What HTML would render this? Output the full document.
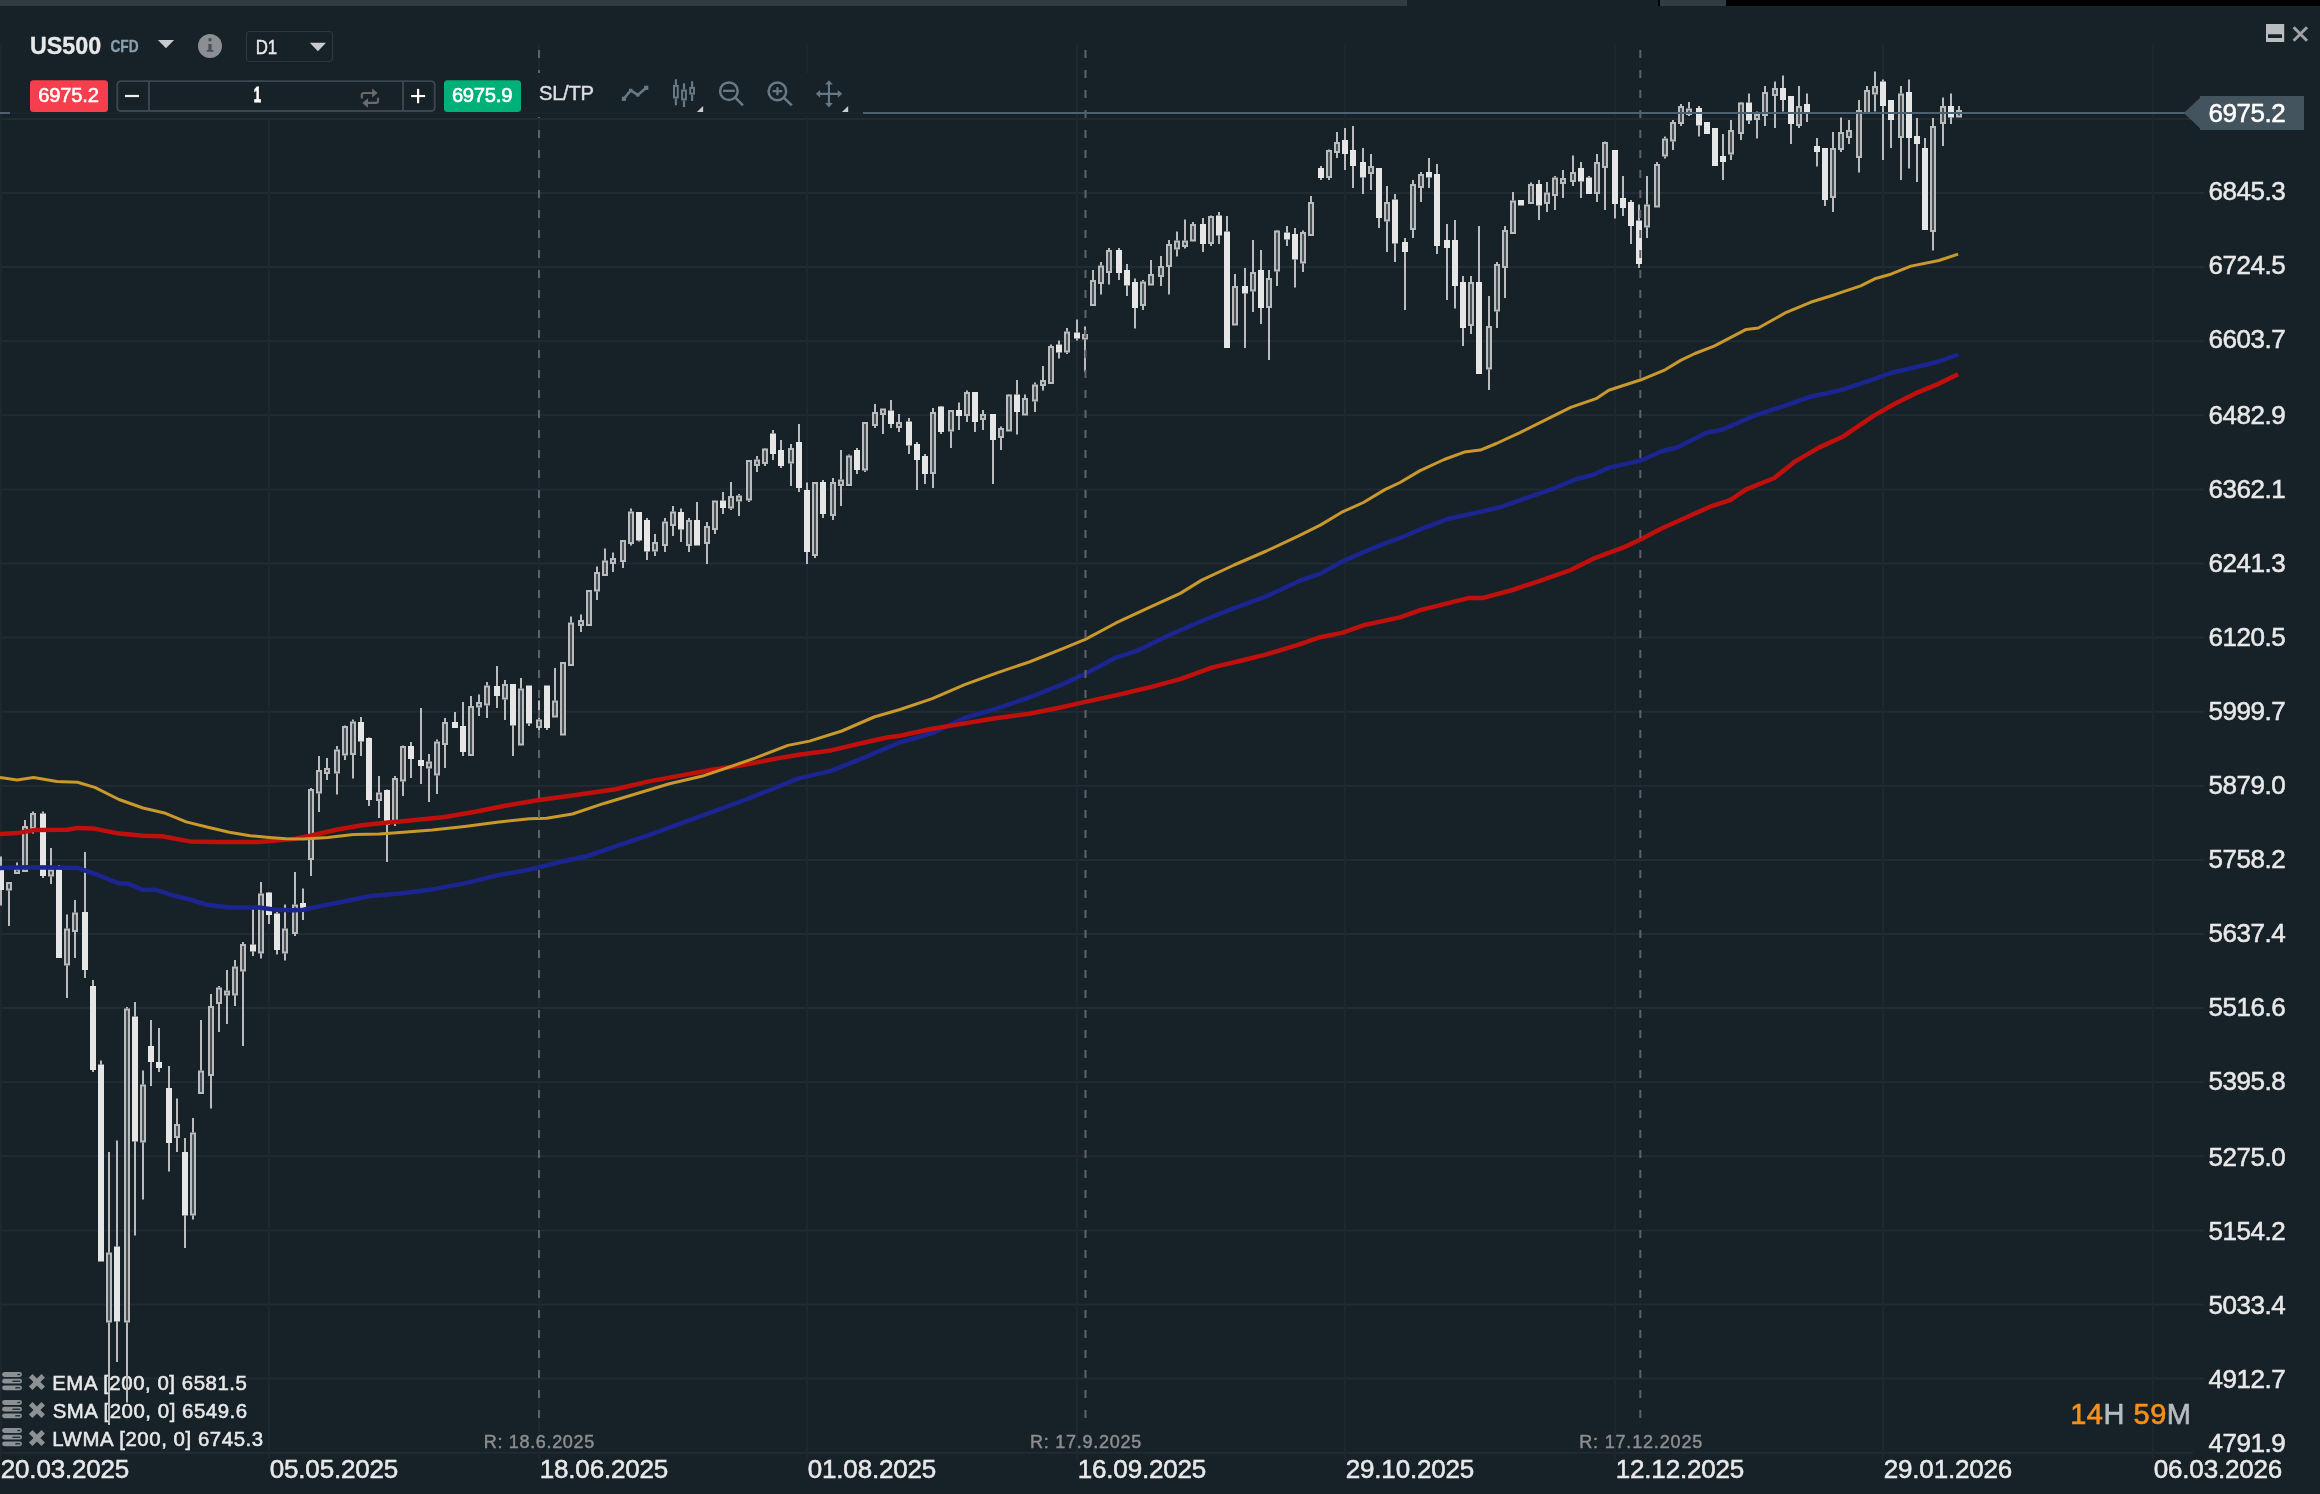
<!DOCTYPE html>
<html lang="en"><head><meta charset="utf-8"><title>US500 CFD D1</title>
<style>html,body{margin:0;padding:0;background:#172128;overflow:hidden}svg{display:block;will-change:transform}</style>
</head><body>
<svg width="2320" height="1494" viewBox="0 0 2320 1494" font-family="Liberation Sans, sans-serif" xml:space="preserve">
<rect width="2320" height="1494" fill="#172128"/>
<rect x="0" y="0" width="1407" height="6" fill="#303b42"/>
<rect x="1658" y="0" width="2" height="6" fill="#000"/>
<rect x="1660" y="0" width="66" height="6" fill="#303b42"/>
<rect x="1726" y="0" width="594" height="6" fill="#000"/>
<path d="M0 117.9h2204v2h-2204zM0 192.0h2204v2h-2204zM0 266.1h2204v2h-2204zM0 340.2h2204v2h-2204zM0 414.3h2204v2h-2204zM0 488.4h2204v2h-2204zM0 562.5h2204v2h-2204zM0 636.6h2204v2h-2204zM0 710.7h2204v2h-2204zM0 784.8h2204v2h-2204zM0 858.9h2204v2h-2204zM0 933.0h2204v2h-2204zM0 1007.1h2204v2h-2204zM0 1081.2h2204v2h-2204zM0 1155.3h2204v2h-2204zM0 1229.4h2204v2h-2204zM0 1303.5h2204v2h-2204zM0 1377.6h2204v2h-2204zM0 1451.7h2193v2h-2193z" fill="#212b33"/>
<path d="M0 44.5h2v1415h-2zM268 44.5h2v1415h-2zM538 44.5h2v1415h-2zM806 44.5h2v1415h-2zM1076 44.5h2v1415h-2zM1344 44.5h2v1415h-2zM1614 44.5h2v1415h-2zM1882 44.5h2v1415h-2zM2152 44.5h2v1415h-2z" fill="#1e272f"/>
<rect x="2.1" y="1372.0" width="19.9" height="4.9" rx="2.45" fill="#8c9194"/>
<rect x="17.2" y="1373.7" width="3.2" height="1.5" rx="0.7" fill="#2b353c"/>
<rect x="2.1" y="1378.7" width="19.9" height="4.9" rx="2.45" fill="#8c9194"/>
<rect x="12.2" y="1380.4" width="8.2" height="1.5" rx="0.7" fill="#2b353c"/>
<rect x="2.1" y="1385.4" width="19.9" height="4.9" rx="2.45" fill="#8c9194"/>
<rect x="15.2" y="1387.1" width="5.2" height="1.5" rx="0.7" fill="#2b353c"/>
<path d="M30.7 1375.7 L43.2 1388.2 M43.2 1375.7 L30.7 1388.2" stroke="#8c9194" stroke-width="5" fill="none"/>
<rect x="2.1" y="1400.0" width="19.9" height="4.9" rx="2.45" fill="#8c9194"/>
<rect x="17.2" y="1401.7" width="3.2" height="1.5" rx="0.7" fill="#2b353c"/>
<rect x="2.1" y="1406.7" width="19.9" height="4.9" rx="2.45" fill="#8c9194"/>
<rect x="12.2" y="1408.4" width="8.2" height="1.5" rx="0.7" fill="#2b353c"/>
<rect x="2.1" y="1413.4" width="19.9" height="4.9" rx="2.45" fill="#8c9194"/>
<rect x="15.2" y="1415.1" width="5.2" height="1.5" rx="0.7" fill="#2b353c"/>
<path d="M30.7 1403.7 L43.2 1416.2 M43.2 1403.7 L30.7 1416.2" stroke="#8c9194" stroke-width="5" fill="none"/>
<rect x="2.1" y="1428.0" width="19.9" height="4.9" rx="2.45" fill="#8c9194"/>
<rect x="17.2" y="1429.7" width="3.2" height="1.5" rx="0.7" fill="#2b353c"/>
<rect x="2.1" y="1434.7" width="19.9" height="4.9" rx="2.45" fill="#8c9194"/>
<rect x="12.2" y="1436.4" width="8.2" height="1.5" rx="0.7" fill="#2b353c"/>
<rect x="2.1" y="1441.4" width="19.9" height="4.9" rx="2.45" fill="#8c9194"/>
<rect x="15.2" y="1443.1" width="5.2" height="1.5" rx="0.7" fill="#2b353c"/>
<path d="M30.7 1431.7 L43.2 1444.2 M43.2 1431.7 L30.7 1444.2" stroke="#8c9194" stroke-width="5" fill="none"/>
<text x="52.22" y="1389.9" font-size="20.4" fill="#e8e8e8" textLength="194.65" lengthAdjust="spacing" stroke="#e8e8e8" stroke-width="0.55">EMA [200, 0] 6581.5</text><text x="52.64" y="1417.9" font-size="20.4" fill="#e8e8e8" textLength="194.44" lengthAdjust="spacing" stroke="#e8e8e8" stroke-width="0.55">SMA [200, 0] 6549.6</text><text x="52.22" y="1445.9" font-size="20.4" fill="#e8e8e8" textLength="210.89" lengthAdjust="spacing" stroke="#e8e8e8" stroke-width="0.55">LWMA [200, 0] 6745.3</text>
<path d="M0 856.5h2v13.0h-2zM0 890.0h2v15.5h-2zM8 890.5h2v35.5h-2zM16 862.5h2v6.0h-2zM24 820.0h2v6.0h-2zM32 811.5h2v1.5h-2zM32 829.0h2v4.5h-2zM42 811.5h2v2.0h-2zM42 876.0h2v2.0h-2zM50 848.0h2v21.5h-2zM50 876.5h2v7.5h-2zM58 865.0h2v1.0h-2zM66 914.5h2v14.0h-2zM66 965.5h2v32.5h-2zM74 900.0h2v12.5h-2zM74 932.0h2v26.0h-2zM84 852.0h2v60.0h-2zM84 970.0h2v8.0h-2zM92 980.0h2v6.0h-2zM92 1070.0h2v2.0h-2zM100 1060.5h2v4.0h-2zM108 1152.0h2v100.5h-2zM108 1322.5h2v102.5h-2zM116 1140.5h2v106.0h-2zM116 1321.5h2v40.5h-2zM126 1007.0h2v1.5h-2zM126 1322.5h2v80.0h-2zM134 1002.0h2v14.5h-2zM134 1141.5h2v94.0h-2zM142 1070.5h2v14.0h-2zM142 1142.5h2v57.0h-2zM150 1020.0h2v26.0h-2zM150 1062.0h2v24.0h-2zM158 1028.0h2v34.0h-2zM158 1068.0h2v4.0h-2zM168 1066.0h2v22.0h-2zM168 1143.0h2v28.5h-2zM176 1098.5h2v25.5h-2zM176 1138.0h2v14.0h-2zM184 1138.0h2v14.0h-2zM184 1215.5h2v32.5h-2zM192 1118.0h2v14.5h-2zM192 1215.5h2v4.0h-2zM200 1020.0h2v50.5h-2zM210 994.0h2v12.0h-2zM210 1076.0h2v32.5h-2zM218 986.0h2v1.5h-2zM218 1004.0h2v28.0h-2zM226 970.0h2v20.5h-2zM226 995.5h2v28.5h-2zM234 960.0h2v6.5h-2zM234 995.5h2v10.5h-2zM242 942.0h2v2.0h-2zM242 971.5h2v74.5h-2zM252 909.0h2v35.5h-2zM252 951.5h2v4.5h-2zM260 882.0h2v11.5h-2zM260 953.5h2v5.0h-2zM268 892.0h2v0.5h-2zM268 915.0h2v9.0h-2zM276 912.0h2v1.5h-2zM276 950.0h2v4.5h-2zM284 904.5h2v24.0h-2zM284 953.5h2v7.0h-2zM294 872.0h2v32.5h-2zM294 934.0h2v2.0h-2zM302 888.5h2v14.5h-2zM302 908.5h2v11.5h-2zM310 788.0h2v1.0h-2zM310 860.0h2v16.0h-2zM318 756.0h2v14.0h-2zM318 793.5h2v18.5h-2zM326 758.0h2v10.0h-2zM326 774.0h2v6.0h-2zM336 746.0h2v3.5h-2zM336 773.5h2v21.0h-2zM344 725.5h2v0.5h-2zM344 755.5h2v4.5h-2zM352 719.5h2v2.0h-2zM352 755.0h2v23.5h-2zM360 717.0h2v5.0h-2zM360 741.5h2v14.5h-2zM368 737.5h2v0.5h-2zM368 800.0h2v6.0h-2zM378 776.0h2v16.5h-2zM378 801.0h2v17.0h-2zM386 789.5h2v0.5h-2zM386 825.0h2v37.0h-2zM394 776.0h2v2.0h-2zM394 823.0h2v3.0h-2zM402 745.5h2v0.5h-2zM402 781.5h2v14.5h-2zM410 742.0h2v4.0h-2zM410 759.0h2v19.0h-2zM420 708.0h2v52.0h-2zM420 766.0h2v18.0h-2zM428 754.0h2v7.5h-2zM428 768.5h2v33.5h-2zM436 739.5h2v2.0h-2zM436 775.5h2v18.5h-2zM444 718.0h2v4.0h-2zM444 745.0h2v23.0h-2zM454 712.0h2v10.0h-2zM462 702.0h2v24.0h-2zM462 752.0h2v4.0h-2zM470 696.0h2v10.0h-2zM478 694.5h2v7.5h-2zM478 707.5h2v8.5h-2zM486 682.0h2v3.5h-2zM486 705.5h2v12.5h-2zM496 666.0h2v20.0h-2zM496 696.0h2v12.0h-2zM504 680.0h2v4.0h-2zM504 699.5h2v20.5h-2zM512 725.5h2v30.5h-2zM520 678.0h2v10.5h-2zM528 723.5h2v2.5h-2zM538 700.5h2v19.0h-2zM538 728.0h2v9.5h-2zM546 728.0h2v2.0h-2zM554 668.0h2v32.5h-2zM570 616.5h2v6.0h-2zM580 614.5h2v5.5h-2zM580 626.0h2v6.0h-2zM596 566.5h2v5.5h-2zM596 591.5h2v8.5h-2zM604 548.5h2v12.0h-2zM612 552.5h2v5.5h-2zM612 564.0h2v8.0h-2zM622 562.0h2v6.0h-2zM630 508.5h2v3.0h-2zM630 544.0h2v1.5h-2zM638 540.5h2v1.0h-2zM646 518.0h2v2.0h-2zM646 551.5h2v8.5h-2zM654 534.0h2v8.0h-2zM654 551.5h2v4.5h-2zM664 518.0h2v3.5h-2zM664 546.0h2v6.0h-2zM672 506.0h2v5.5h-2zM672 526.0h2v10.0h-2zM680 508.5h2v3.5h-2zM680 529.5h2v12.5h-2zM688 518.0h2v2.0h-2zM688 546.0h2v6.0h-2zM696 502.0h2v18.0h-2zM706 522.0h2v4.0h-2zM706 544.0h2v20.0h-2zM714 530.0h2v4.0h-2zM722 492.0h2v8.5h-2zM722 508.0h2v6.0h-2zM730 482.0h2v14.0h-2zM730 508.5h2v1.5h-2zM738 494.0h2v1.5h-2zM738 501.5h2v14.5h-2zM748 500.5h2v1.5h-2zM756 456.0h2v3.5h-2zM756 466.0h2v6.0h-2zM764 448.0h2v0.5h-2zM764 464.0h2v2.0h-2zM772 430.0h2v3.5h-2zM772 454.0h2v6.0h-2zM780 440.0h2v10.0h-2zM780 466.0h2v2.0h-2zM790 444.0h2v4.0h-2zM790 463.5h2v22.5h-2zM798 424.0h2v18.0h-2zM798 488.0h2v4.0h-2zM806 482.5h2v7.5h-2zM806 552.0h2v12.0h-2zM814 556.0h2v2.0h-2zM822 480.0h2v2.0h-2zM822 514.0h2v4.0h-2zM832 478.0h2v4.0h-2zM832 516.0h2v4.0h-2zM840 450.0h2v29.5h-2zM840 486.0h2v20.0h-2zM848 454.5h2v1.0h-2zM856 448.0h2v2.0h-2zM856 470.0h2v4.0h-2zM864 470.5h2v1.5h-2zM874 404.0h2v8.0h-2zM874 426.0h2v2.0h-2zM882 415.0h2v19.0h-2zM890 400.0h2v10.5h-2zM890 424.0h2v4.0h-2zM898 414.0h2v8.0h-2zM898 428.0h2v4.0h-2zM908 418.0h2v3.5h-2zM908 445.5h2v8.5h-2zM916 442.0h2v2.0h-2zM916 460.0h2v30.0h-2zM924 454.0h2v2.0h-2zM924 474.0h2v10.0h-2zM932 408.0h2v4.0h-2zM932 474.0h2v14.0h-2zM940 406.0h2v0.5h-2zM940 432.0h2v2.0h-2zM950 431.5h2v16.5h-2zM958 402.5h2v7.5h-2zM958 416.0h2v14.0h-2zM966 390.5h2v1.5h-2zM966 416.0h2v6.0h-2zM974 422.0h2v10.0h-2zM982 410.0h2v4.0h-2zM982 420.0h2v10.0h-2zM992 440.0h2v44.0h-2zM1000 426.5h2v1.5h-2zM1000 438.0h2v12.0h-2zM1008 394.0h2v0.5h-2zM1016 380.0h2v14.5h-2zM1016 412.0h2v22.5h-2zM1024 394.5h2v3.5h-2zM1034 382.5h2v2.0h-2zM1034 401.5h2v10.5h-2zM1042 366.0h2v14.0h-2zM1042 386.0h2v4.5h-2zM1050 344.5h2v1.5h-2zM1058 340.5h2v4.0h-2zM1058 352.5h2v6.0h-2zM1066 328.0h2v3.5h-2zM1066 352.5h2v1.5h-2zM1076 319.5h2v13.0h-2zM1076 338.5h2v2.0h-2zM1084 326.5h2v7.5h-2zM1084 339.5h2v32.5h-2zM1092 270.0h2v10.0h-2zM1100 262.0h2v3.5h-2zM1100 284.0h2v10.5h-2zM1108 248.0h2v2.0h-2zM1108 273.0h2v11.5h-2zM1118 248.0h2v2.0h-2zM1118 273.0h2v7.0h-2zM1126 264.0h2v6.0h-2zM1126 285.5h2v10.5h-2zM1134 278.5h2v3.5h-2zM1134 308.0h2v20.5h-2zM1142 280.0h2v1.5h-2zM1142 306.0h2v4.0h-2zM1150 260.0h2v14.0h-2zM1160 256.0h2v10.0h-2zM1160 277.0h2v9.0h-2zM1168 240.0h2v4.0h-2zM1168 267.0h2v27.5h-2zM1176 231.5h2v9.0h-2zM1176 249.5h2v7.0h-2zM1184 219.5h2v21.0h-2zM1184 247.0h2v1.5h-2zM1192 222.0h2v2.0h-2zM1202 218.0h2v6.0h-2zM1202 244.0h2v8.0h-2zM1210 215.5h2v0.5h-2zM1210 244.0h2v2.0h-2zM1218 212.0h2v3.5h-2zM1218 235.5h2v8.5h-2zM1226 216.0h2v15.5h-2zM1234 274.0h2v12.0h-2zM1244 268.0h2v18.0h-2zM1244 293.5h2v54.5h-2zM1252 240.0h2v32.0h-2zM1252 291.5h2v20.5h-2zM1260 250.0h2v20.0h-2zM1260 308.0h2v16.0h-2zM1268 270.0h2v8.0h-2zM1268 308.0h2v52.0h-2zM1276 230.0h2v0.5h-2zM1276 271.5h2v14.5h-2zM1286 226.0h2v6.5h-2zM1286 239.5h2v6.5h-2zM1294 228.0h2v6.0h-2zM1294 259.5h2v28.0h-2zM1302 230.5h2v1.5h-2zM1302 263.5h2v8.5h-2zM1310 196.0h2v6.0h-2zM1320 166.0h2v2.0h-2zM1320 178.0h2v2.0h-2zM1328 149.5h2v0.5h-2zM1328 178.0h2v2.0h-2zM1336 132.0h2v10.0h-2zM1336 153.0h2v5.0h-2zM1344 128.0h2v12.0h-2zM1344 154.0h2v16.0h-2zM1352 126.0h2v24.0h-2zM1352 166.0h2v22.0h-2zM1362 148.0h2v14.0h-2zM1362 177.5h2v16.5h-2zM1370 154.0h2v12.0h-2zM1370 174.0h2v16.0h-2zM1378 218.0h2v10.0h-2zM1386 186.0h2v16.0h-2zM1386 221.5h2v30.5h-2zM1394 194.0h2v5.5h-2zM1394 243.5h2v18.5h-2zM1404 238.0h2v4.0h-2zM1404 252.0h2v58.0h-2zM1412 180.0h2v4.0h-2zM1412 230.0h2v8.0h-2zM1420 172.0h2v2.0h-2zM1420 188.0h2v14.0h-2zM1428 158.0h2v14.0h-2zM1428 177.5h2v10.5h-2zM1436 164.0h2v10.0h-2zM1436 246.0h2v8.0h-2zM1446 224.0h2v16.0h-2zM1446 248.0h2v52.0h-2zM1454 220.0h2v20.0h-2zM1454 286.0h2v22.5h-2zM1462 276.0h2v6.0h-2zM1462 328.0h2v18.0h-2zM1470 276.0h2v6.0h-2zM1470 326.0h2v8.0h-2zM1478 226.0h2v56.0h-2zM1488 296.0h2v30.0h-2zM1488 369.5h2v20.5h-2zM1496 262.0h2v2.0h-2zM1496 311.5h2v16.5h-2zM1504 226.0h2v4.0h-2zM1504 268.0h2v30.0h-2zM1512 192.0h2v8.5h-2zM1530 182.5h2v1.5h-2zM1538 180.0h2v4.0h-2zM1538 205.5h2v14.5h-2zM1546 182.0h2v10.5h-2zM1546 204.0h2v8.0h-2zM1554 176.0h2v1.5h-2zM1554 196.0h2v14.0h-2zM1562 170.0h2v8.0h-2zM1562 184.0h2v14.0h-2zM1572 155.5h2v16.5h-2zM1572 182.0h2v4.0h-2zM1580 162.0h2v6.0h-2zM1580 181.5h2v16.5h-2zM1588 176.0h2v1.5h-2zM1596 154.0h2v8.0h-2zM1596 194.0h2v8.0h-2zM1604 141.5h2v0.5h-2zM1604 168.0h2v42.0h-2zM1614 204.0h2v14.5h-2zM1622 176.0h2v22.0h-2zM1622 208.0h2v8.0h-2zM1630 200.0h2v2.0h-2zM1630 226.0h2v18.0h-2zM1638 204.5h2v16.0h-2zM1638 264.0h2v4.0h-2zM1646 176.0h2v28.5h-2zM1646 227.5h2v10.5h-2zM1656 162.0h2v2.0h-2zM1664 136.5h2v2.0h-2zM1664 156.5h2v2.0h-2zM1672 120.0h2v2.0h-2zM1672 141.5h2v8.5h-2zM1680 104.0h2v2.0h-2zM1680 124.0h2v2.0h-2zM1688 102.0h2v6.5h-2zM1688 115.0h2v1.0h-2zM1698 106.0h2v2.0h-2zM1698 125.5h2v11.0h-2zM1722 134.0h2v22.0h-2zM1722 162.0h2v18.0h-2zM1730 120.0h2v10.0h-2zM1730 154.5h2v5.5h-2zM1740 102.0h2v0.5h-2zM1740 134.0h2v6.0h-2zM1748 93.5h2v9.0h-2zM1748 120.5h2v3.5h-2zM1756 111.5h2v2.5h-2zM1756 120.0h2v18.5h-2zM1764 86.0h2v6.0h-2zM1764 116.0h2v10.0h-2zM1774 81.5h2v6.5h-2zM1774 96.0h2v32.0h-2zM1782 75.5h2v12.5h-2zM1782 100.0h2v11.5h-2zM1790 124.0h2v20.0h-2zM1798 86.0h2v20.0h-2zM1798 126.0h2v2.0h-2zM1806 93.5h2v10.5h-2zM1806 112.0h2v10.0h-2zM1816 138.0h2v8.0h-2zM1816 152.0h2v14.5h-2zM1824 200.0h2v6.0h-2zM1832 132.0h2v16.0h-2zM1832 198.0h2v14.0h-2zM1840 117.5h2v14.5h-2zM1840 150.0h2v2.0h-2zM1848 120.0h2v10.0h-2zM1848 138.0h2v6.0h-2zM1858 100.0h2v10.0h-2zM1858 158.0h2v14.5h-2zM1866 86.0h2v4.0h-2zM1874 71.5h2v14.5h-2zM1874 94.5h2v17.0h-2zM1882 79.5h2v2.0h-2zM1882 106.0h2v54.0h-2zM1890 120.0h2v28.0h-2zM1900 86.0h2v7.5h-2zM1900 138.0h2v42.0h-2zM1908 79.5h2v12.5h-2zM1908 138.0h2v30.5h-2zM1916 118.0h2v18.0h-2zM1916 144.0h2v38.0h-2zM1924 138.0h2v10.0h-2zM1932 118.0h2v8.0h-2zM1932 232.0h2v18.5h-2zM1942 97.5h2v8.5h-2zM1942 124.0h2v22.0h-2zM1950 93.5h2v12.5h-2zM1950 117.5h2v6.5h-2zM1958 106.0h2v4.0h-2z" fill="#b9bbbd"/>
<path d="M-2 869.5h6v20.5h-6zM40 813.5h6v62.5h-6zM56 866.0h6v92.0h-6zM82 912.0h6v58.0h-6zM90 986.0h6v84.0h-6zM98 1064.5h6v197.0h-6zM114 1246.5h6v75.0h-6zM132 1016.5h6v125.0h-6zM148 1046.0h6v16.0h-6zM156 1062.0h6v6.0h-6zM166 1088.0h6v55.0h-6zM182 1152.0h6v63.5h-6zM250 944.5h6v7.0h-6zM266 892.5h6v22.5h-6zM274 913.5h6v36.5h-6zM300 903.0h6v5.5h-6zM358 722.0h6v19.5h-6zM366 738.0h6v62.0h-6zM384 790.0h6v35.0h-6zM408 746.0h6v13.0h-6zM418 760.0h6v6.0h-6zM452 722.0h6v6.0h-6zM460 726.0h6v26.0h-6zM494 686.0h6v10.0h-6zM510 684.0h6v41.5h-6zM526 685.5h6v38.0h-6zM544 685.5h6v42.5h-6zM636 512.0h6v28.5h-6zM644 520.0h6v31.5h-6zM678 512.0h6v17.5h-6zM694 520.0h6v25.5h-6zM720 500.5h6v7.5h-6zM770 433.5h6v20.5h-6zM778 450.0h6v16.0h-6zM796 442.0h6v46.0h-6zM804 490.0h6v62.0h-6zM820 482.0h6v32.0h-6zM854 450.0h6v20.0h-6zM888 410.5h6v13.5h-6zM906 421.5h6v24.0h-6zM914 444.0h6v16.0h-6zM922 456.0h6v18.0h-6zM938 406.5h6v25.5h-6zM956 410.0h6v6.0h-6zM972 392.0h6v30.0h-6zM990 414.0h6v26.0h-6zM1014 394.5h6v17.5h-6zM1056 344.5h6v8.0h-6zM1074 332.5h6v6.0h-6zM1116 250.0h6v23.0h-6zM1124 270.0h6v15.5h-6zM1132 282.0h6v26.0h-6zM1200 224.0h6v20.0h-6zM1216 215.5h6v20.0h-6zM1224 231.5h6v116.5h-6zM1242 286.0h6v7.5h-6zM1258 270.0h6v38.0h-6zM1284 232.5h6v7.0h-6zM1292 234.0h6v25.5h-6zM1318 168.0h6v10.0h-6zM1342 140.0h6v14.0h-6zM1350 150.0h6v16.0h-6zM1360 162.0h6v15.5h-6zM1376 168.0h6v50.0h-6zM1392 199.5h6v44.0h-6zM1402 242.0h6v10.0h-6zM1426 172.0h6v5.5h-6zM1434 174.0h6v72.0h-6zM1444 240.0h6v8.0h-6zM1452 240.0h6v46.0h-6zM1460 282.0h6v46.0h-6zM1476 282.0h6v92.0h-6zM1518 200.0h6v5.5h-6zM1536 184.0h6v21.5h-6zM1578 168.0h6v13.5h-6zM1586 177.5h6v16.5h-6zM1612 150.0h6v54.0h-6zM1620 198.0h6v10.0h-6zM1628 202.0h6v24.0h-6zM1636 220.5h6v43.5h-6zM1696 108.0h6v17.5h-6zM1704 122.0h6v12.0h-6zM1712 128.0h6v38.0h-6zM1720 156.0h6v6.0h-6zM1746 102.5h6v18.0h-6zM1780 88.0h6v12.0h-6zM1788 96.0h6v28.0h-6zM1804 104.0h6v8.0h-6zM1814 146.0h6v6.0h-6zM1822 148.0h6v52.0h-6zM1880 81.5h6v24.5h-6zM1888 100.0h6v20.0h-6zM1906 92.0h6v46.0h-6zM1914 136.0h6v8.0h-6zM1922 148.0h6v82.0h-6zM1948 106.0h6v11.5h-6z" fill="#e6e6e6"/>
<path d="M6 882.0h6v8.5h-6zM14 868.5h6v5.5h-6zM22 826.0h6v46.0h-6zM30 813.0h6v16.0h-6zM48 869.5h6v7.0h-6zM64 928.5h6v37.0h-6zM72 912.5h6v19.5h-6zM106 1252.5h6v70.0h-6zM124 1008.5h6v314.0h-6zM140 1084.5h6v58.0h-6zM174 1124.0h6v14.0h-6zM190 1132.5h6v83.0h-6zM198 1070.5h6v23.5h-6zM208 1006.0h6v70.0h-6zM216 987.5h6v16.5h-6zM224 990.5h6v5.0h-6zM232 966.5h6v29.0h-6zM240 944.0h6v27.5h-6zM258 893.5h6v60.0h-6zM282 928.5h6v25.0h-6zM292 904.5h6v29.5h-6zM308 789.0h6v71.0h-6zM316 770.0h6v23.5h-6zM324 768.0h6v6.0h-6zM334 749.5h6v24.0h-6zM342 726.0h6v29.5h-6zM350 721.5h6v33.5h-6zM376 792.5h6v8.5h-6zM392 778.0h6v45.0h-6zM400 746.0h6v35.5h-6zM426 761.5h6v7.0h-6zM434 741.5h6v34.0h-6zM442 722.0h6v23.0h-6zM468 706.0h6v50.0h-6zM476 702.0h6v5.5h-6zM484 685.5h6v20.0h-6zM502 684.0h6v15.5h-6zM518 688.5h6v57.0h-6zM536 719.5h6v8.5h-6zM552 700.5h6v17.0h-6zM560 662.0h6v73.5h-6zM568 622.5h6v43.5h-6zM578 620.0h6v6.0h-6zM586 590.0h6v36.0h-6zM594 572.0h6v19.5h-6zM602 560.5h6v15.5h-6zM610 558.0h6v6.0h-6zM620 540.0h6v22.0h-6zM628 511.5h6v32.5h-6zM652 542.0h6v9.5h-6zM662 521.5h6v24.5h-6zM670 511.5h6v14.5h-6zM686 520.0h6v26.0h-6zM704 526.0h6v18.0h-6zM712 500.5h6v29.5h-6zM728 496.0h6v12.5h-6zM736 495.5h6v6.0h-6zM746 460.0h6v40.5h-6zM754 459.5h6v6.5h-6zM762 448.5h6v15.5h-6zM788 448.0h6v15.5h-6zM812 482.0h6v74.0h-6zM830 482.0h6v34.0h-6zM838 479.5h6v6.5h-6zM846 455.5h6v30.5h-6zM862 422.0h6v48.5h-6zM872 412.0h6v14.0h-6zM880 408.5h6v6.5h-6zM896 422.0h6v6.0h-6zM930 412.0h6v62.0h-6zM948 410.0h6v21.5h-6zM964 392.0h6v24.0h-6zM980 414.0h6v6.0h-6zM998 428.0h6v10.0h-6zM1006 394.5h6v37.0h-6zM1022 398.0h6v17.5h-6zM1032 384.5h6v17.0h-6zM1040 380.0h6v6.0h-6zM1048 346.0h6v38.0h-6zM1064 331.5h6v21.0h-6zM1082 334.0h6v5.5h-6zM1090 280.0h6v26.0h-6zM1098 265.5h6v18.5h-6zM1106 250.0h6v23.0h-6zM1140 281.5h6v24.5h-6zM1148 274.0h6v11.5h-6zM1158 266.0h6v11.0h-6zM1166 244.0h6v23.0h-6zM1174 240.5h6v9.0h-6zM1182 240.5h6v6.5h-6zM1190 224.0h6v17.5h-6zM1208 216.0h6v28.0h-6zM1232 286.0h6v39.5h-6zM1250 272.0h6v19.5h-6zM1266 278.0h6v30.0h-6zM1274 230.5h6v41.0h-6zM1300 232.0h6v31.5h-6zM1308 202.0h6v34.0h-6zM1326 150.0h6v28.0h-6zM1334 142.0h6v11.0h-6zM1368 166.0h6v8.0h-6zM1384 202.0h6v19.5h-6zM1410 184.0h6v46.0h-6zM1418 174.0h6v14.0h-6zM1468 282.0h6v44.0h-6zM1486 326.0h6v43.5h-6zM1494 264.0h6v47.5h-6zM1502 230.0h6v38.0h-6zM1510 200.5h6v33.5h-6zM1528 184.0h6v20.0h-6zM1544 192.5h6v11.5h-6zM1552 177.5h6v18.5h-6zM1560 178.0h6v6.0h-6zM1570 172.0h6v10.0h-6zM1594 162.0h6v32.0h-6zM1602 142.0h6v26.0h-6zM1644 204.5h6v23.0h-6zM1654 164.0h6v43.5h-6zM1662 138.5h6v18.0h-6zM1670 122.0h6v19.5h-6zM1678 106.0h6v18.0h-6zM1686 108.5h6v6.5h-6zM1728 130.0h6v24.5h-6zM1738 102.5h6v31.5h-6zM1754 114.0h6v6.0h-6zM1762 92.0h6v24.0h-6zM1772 88.0h6v8.0h-6zM1796 106.0h6v20.0h-6zM1830 148.0h6v50.0h-6zM1838 132.0h6v18.0h-6zM1846 130.0h6v8.0h-6zM1856 110.0h6v48.0h-6zM1864 90.0h6v24.0h-6zM1872 86.0h6v8.5h-6zM1898 93.5h6v44.5h-6zM1930 126.0h6v106.0h-6zM1940 106.0h6v18.0h-6zM1956 110.0h6v7.5h-6z" fill="#b9bbbd"/>
<path d="M8 884.0h2v4.5h-2zM16 870.5h2v1.5h-2zM24 828.0h2v42.0h-2zM32 815.0h2v12.0h-2zM50 871.5h2v3.0h-2zM66 930.5h2v33.0h-2zM74 914.5h2v15.5h-2zM108 1254.5h2v66.0h-2zM126 1010.5h2v310.0h-2zM142 1086.5h2v54.0h-2zM176 1126.0h2v10.0h-2zM192 1134.5h2v79.0h-2zM200 1072.5h2v19.5h-2zM210 1008.0h2v66.0h-2zM218 989.5h2v12.5h-2zM226 992.5h2v1.0h-2zM234 968.5h2v25.0h-2zM242 946.0h2v23.5h-2zM260 895.5h2v56.0h-2zM284 930.5h2v21.0h-2zM294 906.5h2v25.5h-2zM310 791.0h2v67.0h-2zM318 772.0h2v19.5h-2zM326 770.0h2v2.0h-2zM336 751.5h2v20.0h-2zM344 728.0h2v25.5h-2zM352 723.5h2v29.5h-2zM378 794.5h2v4.5h-2zM394 780.0h2v41.0h-2zM402 748.0h2v31.5h-2zM428 763.5h2v3.0h-2zM436 743.5h2v30.0h-2zM444 724.0h2v19.0h-2zM470 708.0h2v46.0h-2zM478 704.0h2v1.5h-2zM486 687.5h2v16.0h-2zM504 686.0h2v11.5h-2zM520 690.5h2v53.0h-2zM538 721.5h2v4.5h-2zM554 702.5h2v13.0h-2zM562 664.0h2v69.5h-2zM570 624.5h2v39.5h-2zM580 622.0h2v2.0h-2zM588 592.0h2v32.0h-2zM596 574.0h2v15.5h-2zM604 562.5h2v11.5h-2zM612 560.0h2v2.0h-2zM622 542.0h2v18.0h-2zM630 513.5h2v28.5h-2zM654 544.0h2v5.5h-2zM664 523.5h2v20.5h-2zM672 513.5h2v10.5h-2zM688 522.0h2v22.0h-2zM706 528.0h2v14.0h-2zM714 502.5h2v25.5h-2zM730 498.0h2v8.5h-2zM738 497.5h2v2.0h-2zM748 462.0h2v36.5h-2zM756 461.5h2v2.5h-2zM764 450.5h2v11.5h-2zM790 450.0h2v11.5h-2zM814 484.0h2v70.0h-2zM832 484.0h2v30.0h-2zM840 481.5h2v2.5h-2zM848 457.5h2v26.5h-2zM864 424.0h2v44.5h-2zM874 414.0h2v10.0h-2zM882 410.5h2v2.5h-2zM898 424.0h2v2.0h-2zM932 414.0h2v58.0h-2zM950 412.0h2v17.5h-2zM966 394.0h2v20.0h-2zM982 416.0h2v2.0h-2zM1000 430.0h2v6.0h-2zM1008 396.5h2v33.0h-2zM1024 400.0h2v13.5h-2zM1034 386.5h2v13.0h-2zM1042 382.0h2v2.0h-2zM1050 348.0h2v34.0h-2zM1066 333.5h2v17.0h-2zM1084 336.0h2v1.5h-2zM1092 282.0h2v22.0h-2zM1100 267.5h2v14.5h-2zM1108 252.0h2v19.0h-2zM1142 283.5h2v20.5h-2zM1150 276.0h2v7.5h-2zM1160 268.0h2v7.0h-2zM1168 246.0h2v19.0h-2zM1176 242.5h2v5.0h-2zM1184 242.5h2v2.5h-2zM1192 226.0h2v13.5h-2zM1210 218.0h2v24.0h-2zM1234 288.0h2v35.5h-2zM1252 274.0h2v15.5h-2zM1268 280.0h2v26.0h-2zM1276 232.5h2v37.0h-2zM1302 234.0h2v27.5h-2zM1310 204.0h2v30.0h-2zM1328 152.0h2v24.0h-2zM1336 144.0h2v7.0h-2zM1370 168.0h2v4.0h-2zM1386 204.0h2v15.5h-2zM1412 186.0h2v42.0h-2zM1420 176.0h2v10.0h-2zM1470 284.0h2v40.0h-2zM1488 328.0h2v39.5h-2zM1496 266.0h2v43.5h-2zM1504 232.0h2v34.0h-2zM1512 202.5h2v29.5h-2zM1530 186.0h2v16.0h-2zM1546 194.5h2v7.5h-2zM1554 179.5h2v14.5h-2zM1562 180.0h2v2.0h-2zM1572 174.0h2v6.0h-2zM1596 164.0h2v28.0h-2zM1604 144.0h2v22.0h-2zM1646 206.5h2v19.0h-2zM1656 166.0h2v39.5h-2zM1664 140.5h2v14.0h-2zM1672 124.0h2v15.5h-2zM1680 108.0h2v14.0h-2zM1688 110.5h2v2.5h-2zM1730 132.0h2v20.5h-2zM1740 104.5h2v27.5h-2zM1756 116.0h2v2.0h-2zM1764 94.0h2v20.0h-2zM1774 90.0h2v4.0h-2zM1798 108.0h2v16.0h-2zM1832 150.0h2v46.0h-2zM1840 134.0h2v14.0h-2zM1848 132.0h2v4.0h-2zM1858 112.0h2v44.0h-2zM1866 92.0h2v20.0h-2zM1874 88.0h2v4.5h-2zM1900 95.5h2v40.5h-2zM1932 128.0h2v102.0h-2zM1942 108.0h2v14.0h-2zM1958 112.0h2v3.5h-2z" fill="#474f54"/>
<path d="M0.0 867.9 L25.9 867.2 L51.7 867.6 L77.6 867.9 L96.6 874.5 L119.0 883.4 L127.6 883.4 L143.0 890.0 L155.0 889.7 L172.4 895.2 L189.7 899.5 L206.9 904.7 L229.3 907.6 L258.6 907.6 L275.9 909.8 L293.1 910.3 L303.4 909.8 L319.0 906.4 L344.8 901.2 L370.7 896.0 L400.0 893.5 L432.3 889.4 L464.7 883.4 L497.0 875.4 L529.3 869.6 L561.6 861.8 L587.5 856.0 L615.5 846.3 L647.8 835.5 L680.2 823.7 L712.5 811.8 L744.8 800.0 L777.2 787.0 L798.7 778.4 L831.0 770.9 L863.4 757.9 L900.0 742.3 L932.3 733.1 L964.7 718.0 L997.0 708.3 L1029.3 697.5 L1061.6 684.6 L1085.3 673.8 L1115.5 657.7 L1137.1 650.8 L1169.4 635.0 L1201.7 621.0 L1234.1 608.1 L1266.4 596.3 L1298.7 581.2 L1320.3 573.6 L1341.8 561.8 L1363.4 552.1 L1384.9 543.4 L1400.0 538.0 L1424.1 527.8 L1448.2 518.8 L1476.3 512.7 L1500.4 507.1 L1524.5 498.7 L1550.6 489.6 L1576.7 479.0 L1592.8 475.0 L1608.8 467.6 L1624.9 464.1 L1641.0 460.5 L1661.0 451.5 L1677.1 447.5 L1695.0 438.5 L1706.1 432.8 L1722.1 429.8 L1754.3 415.7 L1782.4 406.7 L1810.5 396.7 L1840.6 390.2 L1866.7 381.6 L1890.8 373.0 L1910.9 368.2 L1939.0 361.5 L1958.1 354.5" fill="none" stroke="#1b2590" stroke-width="4.5" stroke-linejoin="round" stroke-linecap="butt"/>
<path d="M0.0 834.0 L17.2 833.1 L34.5 830.0 L67.2 829.7 L77.6 827.9 L93.1 828.4 L119.0 833.6 L143.0 835.7 L162.0 836.2 L189.7 841.4 L215.5 842.0 L258.6 842.0 L275.9 840.5 L293.1 839.1 L310.3 835.7 L336.2 829.7 L362.0 825.3 L387.9 822.4 L400.0 821.4 L443.1 817.2 L475.4 811.8 L507.8 805.3 L539.0 800.0 L572.4 795.6 L615.5 789.2 L647.8 781.6 L680.2 775.6 L712.5 769.8 L744.8 764.8 L777.2 758.4 L798.7 754.7 L831.0 750.4 L863.4 742.8 L887.0 737.5 L900.0 735.8 L932.3 728.8 L964.7 723.4 L997.0 718.0 L1029.3 713.7 L1061.6 707.2 L1085.3 701.9 L1115.5 695.4 L1147.8 687.8 L1180.2 679.2 L1212.5 667.4 L1244.8 659.8 L1266.4 654.4 L1298.7 644.7 L1320.3 637.2 L1341.8 632.9 L1363.4 625.3 L1384.9 620.6 L1400.0 617.4 L1420.1 610.1 L1444.2 604.1 L1468.3 598.1 L1482.3 598.1 L1512.4 590.0 L1540.6 580.6 L1570.7 570.0 L1592.8 558.9 L1608.8 552.9 L1624.9 546.9 L1641.0 539.2 L1661.0 528.8 L1681.1 519.8 L1695.0 513.5 L1710.1 506.7 L1730.2 500.1 L1746.2 489.4 L1774.3 478.0 L1794.4 461.9 L1818.5 447.9 L1842.6 436.8 L1858.7 425.8 L1874.7 415.1 L1894.8 403.7 L1914.9 393.7 L1939.0 383.6 L1958.1 374.2" fill="none" stroke="#c0100c" stroke-width="4.5" stroke-linejoin="round" stroke-linecap="butt"/>
<path d="M0.0 777.6 L17.2 780.0 L33.6 777.6 L56.9 781.4 L77.6 782.2 L94.8 787.4 L119.0 799.5 L143.0 808.0 L165.5 813.3 L186.2 821.9 L206.9 827.0 L229.3 832.2 L250.0 835.7 L269.0 837.4 L286.2 838.8 L303.4 839.1 L327.6 837.4 L353.4 834.5 L379.3 834.0 L400.0 832.5 L432.3 830.1 L464.7 826.5 L497.0 822.2 L529.3 818.7 L546.6 818.3 L572.4 814.0 L604.7 803.2 L637.1 793.5 L669.4 783.8 L701.7 776.3 L723.3 769.1 L755.6 757.9 L787.9 745.4 L809.5 741.1 L841.8 731.0 L874.1 717.0 L900.0 709.5 L932.3 698.6 L964.7 684.6 L997.0 672.8 L1029.3 662.0 L1061.6 649.1 L1085.3 639.4 L1115.5 623.2 L1147.8 608.1 L1180.2 593.4 L1201.7 580.1 L1234.1 565.0 L1266.4 551.0 L1298.7 535.9 L1320.3 525.1 L1341.8 512.2 L1363.4 502.5 L1384.9 489.6 L1400.0 482.5 L1420.1 470.6 L1444.2 459.5 L1464.3 452.1 L1480.3 450.1 L1496.4 443.5 L1520.5 432.4 L1544.6 420.4 L1570.7 407.3 L1596.8 398.3 L1608.8 390.2 L1641.0 379.8 L1665.1 369.8 L1681.1 360.1 L1695.0 353.5 L1714.1 346.1 L1746.2 329.4 L1758.3 328.0 L1786.4 312.3 L1810.5 302.3 L1834.6 294.7 L1860.7 285.8 L1874.7 278.8 L1890.8 274.2 L1910.9 266.1 L1939.0 260.5 L1958.1 254.1" fill="none" stroke="#c9992b" stroke-width="3" stroke-linejoin="round" stroke-linecap="butt"/>
<line x1="539" y1="50" x2="539" y2="1420" stroke="#636168" stroke-width="2" stroke-dasharray="8 12"/>
<line x1="1085.5" y1="50" x2="1085.5" y2="1420" stroke="#636168" stroke-width="2" stroke-dasharray="8 12"/>
<line x1="1640.3" y1="50" x2="1640.3" y2="1420" stroke="#636168" stroke-width="2" stroke-dasharray="8 12"/>
<rect x="0" y="112" width="2190" height="2" fill="#4b6170"/>
<path d="M2183.8 113 L2200 97.8 V96 H2304 V130 H2200 V128.2 Z" fill="#44545f"/>
<text x="2208.58" y="122.3" font-size="26" fill="#ffffff" textLength="77.19" lengthAdjust="spacing" stroke="#ffffff" stroke-width="0.55">6975.2</text>
<text x="2208.58" y="200.3" font-size="26" fill="#e8e8e8" textLength="77.19" lengthAdjust="spacing" stroke="#e8e8e8" stroke-width="0.55">6845.3</text><text x="2208.58" y="274.3" font-size="26" fill="#e8e8e8" textLength="77.19" lengthAdjust="spacing" stroke="#e8e8e8" stroke-width="0.55">6724.5</text><text x="2208.58" y="348.3" font-size="26" fill="#e8e8e8" textLength="77.19" lengthAdjust="spacing" stroke="#e8e8e8" stroke-width="0.55">6603.7</text><text x="2208.58" y="424.3" font-size="26" fill="#e8e8e8" textLength="77.19" lengthAdjust="spacing" stroke="#e8e8e8" stroke-width="0.55">6482.9</text><text x="2208.58" y="498.3" font-size="26" fill="#e8e8e8" textLength="77.19" lengthAdjust="spacing" stroke="#e8e8e8" stroke-width="0.55">6362.1</text><text x="2208.58" y="572.3" font-size="26" fill="#e8e8e8" textLength="77.19" lengthAdjust="spacing" stroke="#e8e8e8" stroke-width="0.55">6241.3</text><text x="2208.58" y="646.3" font-size="26" fill="#e8e8e8" textLength="77.19" lengthAdjust="spacing" stroke="#e8e8e8" stroke-width="0.55">6120.5</text><text x="2208.58" y="720.3" font-size="26" fill="#e8e8e8" textLength="77.19" lengthAdjust="spacing" stroke="#e8e8e8" stroke-width="0.55">5999.7</text><text x="2208.58" y="794.3" font-size="26" fill="#e8e8e8" textLength="77.19" lengthAdjust="spacing" stroke="#e8e8e8" stroke-width="0.55">5879.0</text><text x="2208.58" y="868.3" font-size="26" fill="#e8e8e8" textLength="77.19" lengthAdjust="spacing" stroke="#e8e8e8" stroke-width="0.55">5758.2</text><text x="2208.58" y="942.3" font-size="26" fill="#e8e8e8" textLength="77.19" lengthAdjust="spacing" stroke="#e8e8e8" stroke-width="0.55">5637.4</text><text x="2208.58" y="1016.3" font-size="26" fill="#e8e8e8" textLength="77.19" lengthAdjust="spacing" stroke="#e8e8e8" stroke-width="0.55">5516.6</text><text x="2208.58" y="1090.3" font-size="26" fill="#e8e8e8" textLength="77.19" lengthAdjust="spacing" stroke="#e8e8e8" stroke-width="0.55">5395.8</text><text x="2208.58" y="1166.3" font-size="26" fill="#e8e8e8" textLength="77.19" lengthAdjust="spacing" stroke="#e8e8e8" stroke-width="0.55">5275.0</text><text x="2208.58" y="1240.3" font-size="26" fill="#e8e8e8" textLength="77.19" lengthAdjust="spacing" stroke="#e8e8e8" stroke-width="0.55">5154.2</text><text x="2208.58" y="1314.3" font-size="26" fill="#e8e8e8" textLength="77.19" lengthAdjust="spacing" stroke="#e8e8e8" stroke-width="0.55">5033.4</text><text x="2208.58" y="1388.3" font-size="26" fill="#e8e8e8" textLength="77.19" lengthAdjust="spacing" stroke="#e8e8e8" stroke-width="0.55">4912.7</text><text x="2208.58" y="1452.4" font-size="26" fill="#e8e8e8" textLength="77.19" lengthAdjust="spacing" stroke="#e8e8e8" stroke-width="0.55">4791.9</text>
<text x="0.80" y="1478.2" font-size="26" fill="#e8e8e8" textLength="128.50" lengthAdjust="spacing" stroke="#e8e8e8" stroke-width="0.55">20.03.2025</text><text x="269.75" y="1478.2" font-size="26" fill="#e8e8e8" textLength="128.50" lengthAdjust="spacing" stroke="#e8e8e8" stroke-width="0.55">05.05.2025</text><text x="539.75" y="1478.2" font-size="26" fill="#e8e8e8" textLength="128.50" lengthAdjust="spacing" stroke="#e8e8e8" stroke-width="0.55">18.06.2025</text><text x="807.75" y="1478.2" font-size="26" fill="#e8e8e8" textLength="128.50" lengthAdjust="spacing" stroke="#e8e8e8" stroke-width="0.55">01.08.2025</text><text x="1077.75" y="1478.2" font-size="26" fill="#e8e8e8" textLength="128.50" lengthAdjust="spacing" stroke="#e8e8e8" stroke-width="0.55">16.09.2025</text><text x="1345.75" y="1478.2" font-size="26" fill="#e8e8e8" textLength="128.50" lengthAdjust="spacing" stroke="#e8e8e8" stroke-width="0.55">29.10.2025</text><text x="1615.75" y="1478.2" font-size="26" fill="#e8e8e8" textLength="128.50" lengthAdjust="spacing" stroke="#e8e8e8" stroke-width="0.55">12.12.2025</text><text x="1883.75" y="1478.2" font-size="26" fill="#e8e8e8" textLength="128.50" lengthAdjust="spacing" stroke="#e8e8e8" stroke-width="0.55">29.01.2026</text><text x="2153.75" y="1478.2" font-size="26" fill="#e8e8e8" textLength="128.50" lengthAdjust="spacing" stroke="#e8e8e8" stroke-width="0.55">06.03.2026</text>
<text x="483.78" y="1448" font-size="18" fill="#8e8e8e" textLength="110.42" lengthAdjust="spacing" stroke="#8e8e8e" stroke-width="0.45">R: 18.6.2025</text><text x="1030.10" y="1448" font-size="18" fill="#8e8e8e" textLength="111.18" lengthAdjust="spacing" stroke="#8e8e8e" stroke-width="0.45">R: 17.9.2025</text><text x="1579.13" y="1448" font-size="18" fill="#8e8e8e" textLength="123.11" lengthAdjust="spacing" stroke="#8e8e8e" stroke-width="0.45">R: 17.12.2025</text><text x="2070.20" y="1423.8" font-size="29" fill="#e8e8e8" textLength="120.76" lengthAdjust="spacing"><tspan fill="#f7901a" stroke="#f7901a" stroke-width="0.65">14</tspan><tspan fill="#b4bcc2" stroke="#b4bcc2" stroke-width="0.65">H</tspan><tspan fill="#f7901a" stroke="#f7901a" stroke-width="0.65"> 59</tspan><tspan fill="#b4bcc2" stroke="#b4bcc2" stroke-width="0.65">M</tspan></text>
<rect x="10" y="73" width="853" height="44" fill="#172128"/>
<rect x="10" y="112.3" width="853" height="1.8" fill="#1b262d"/>
<rect x="10" y="25" width="332" height="48" fill="#172128"/>
<text transform="translate(29.96 53.8) scale(0.9393 1)" font-size="24.8" fill="#e8e8e8" font-weight="bold" stroke="#e8e8e8" stroke-width="0.35">US500</text><text transform="translate(110.45 52) scale(0.8658 1)" font-size="15.8" fill="#8a9fae" font-weight="bold" stroke="#8a9fae" stroke-width="0.35">CFD</text>
<path d="M157.9 39.9 H174.1 L166 48.2 Z" fill="#c8cacc"/>
<circle cx="210" cy="45.9" r="12" fill="#8b8e92"/>
<circle cx="210" cy="39.7" r="1.8" fill="#4a5259"/><path d="M208.3 44h3.4v6h1.7v1.8h-6.8v-1.8h1.7z" fill="#4a5259"/>
<rect x="246.5" y="31.5" width="86" height="30" rx="3.5" fill="#172128" stroke="#2c3840" stroke-width="1.2"/>
<text transform="translate(255.69 53.9) scale(0.8336 1)" font-size="20.2" fill="#e8e8e8" stroke="#e8e8e8" stroke-width="0.45">D1</text>
<path d="M309.8 42.8 H326 L317.9 51.3 Z" fill="#c8cacc"/>
<rect x="30" y="80.3" width="78" height="31.7" rx="3.5" fill="#f63e4d"/>
<text x="38.21" y="101.9" font-size="20.2" fill="#ffffff" textLength="60.80" lengthAdjust="spacing" stroke="#ffffff" stroke-width="0.55">6975.2</text>
<rect x="117.3" y="81.1" width="317.4" height="29.9" rx="3.5" fill="none" stroke="#3a4650" stroke-width="1.9"/>
<rect x="148" y="81" width="1.9" height="30" fill="#3a4650"/><rect x="402.1" y="81" width="1.9" height="30" fill="#3a4650"/>
<rect x="125" y="94.9" width="14" height="2.2" fill="#f0f0f0"/>
<rect x="411.1" y="95" width="14" height="2.1" fill="#ffffff"/><rect x="417" y="88.9" width="2.2" height="14.3" fill="#ffffff"/>
<text transform="translate(253.80 102.2) scale(0.6212 1)" font-size="21.2" fill="#ffffff" font-weight="bold" stroke="#ffffff" stroke-width="0.8">1</text>
<rect x="444" y="80.3" width="77" height="31.7" rx="3.5" fill="#00b079"/>
<text x="451.88" y="101.9" font-size="20.2" fill="#ffffff" textLength="60.49" lengthAdjust="spacing" stroke="#ffffff" stroke-width="0.65">6975.9</text><text x="539.04" y="100" font-size="20.2" fill="#dedede" textLength="54.84" lengthAdjust="spacing" stroke="#dedede" stroke-width="0.45">SL/TP</text>
<path d="M361.8 98.6 V95.2 Q361.8 93 364 93 H372.5" fill="none" stroke="#6c6870" stroke-width="2.1"/>
<path d="M372.1 88.4 L377.6 93 L372.1 97.6 Z" fill="#6c6870"/>
<path d="M378.1 97.8 V100.7 Q378.1 102.9 375.9 102.9 H367.6" fill="none" stroke="#6c6870" stroke-width="2.1"/>
<path d="M368 98.2 L362.3 102.9 L368 107.7 Z" fill="#6c6870"/>
<path d="M623.9 98.8 L630.7 90.4 L637.8 94.9 L646.2 87.8" fill="none" stroke="#667985" stroke-width="2.6" stroke-linejoin="round"/>
<rect x="621.8" y="96.7" width="4.2" height="4.2" fill="#667985"/>
<rect x="629.0" y="88.7" width="3.4" height="3.4" fill="#667985"/>
<rect x="636.1" y="93.2" width="3.4" height="3.4" fill="#667985"/>
<rect x="644.1" y="85.7" width="4.2" height="4.2" fill="#667985"/>
<path d="M675.9 79.3V84.9M675.9 98.5V105.3" stroke="#667985" stroke-width="2.2" fill="none"/>
<rect x="674.0" y="85.9" width="3.8" height="11.6" fill="none" stroke="#667985" stroke-width="2"/>
<path d="M684 83.2V89.5M684 100.4V106.9" stroke="#667985" stroke-width="2.2" fill="none"/>
<rect x="682.1" y="90.5" width="3.8" height="8.9" fill="none" stroke="#667985" stroke-width="2"/>
<path d="M692.1 81.2V86.9M692.1 94.6V101.1" stroke="#667985" stroke-width="2.2" fill="none"/>
<rect x="690.2" y="87.9" width="3.8" height="5.7" fill="none" stroke="#667985" stroke-width="2"/>
<path d="M703.1 105.9 V112.1 H696.9 Z" fill="#c9cdcf"/>
<circle cx="728.9" cy="91.2" r="8.8" fill="none" stroke="#667985" stroke-width="2.5"/>
<path d="M735.4 97.6 L742.9 105.4" stroke="#667985" stroke-width="2.6" fill="none"/>
<rect x="723.1" y="89.7" width="11.7" height="2.3" fill="#667985"/>
<circle cx="777.4" cy="91.4" r="8.8" fill="none" stroke="#667985" stroke-width="2.5"/>
<path d="M783.9 97.8 L791.8 105.4" stroke="#667985" stroke-width="2.6" fill="none"/>
<rect x="772.6" y="90" width="9.7" height="2.3" fill="#667985"/><rect x="776.3" y="87.2" width="2.3" height="8.1" fill="#667985"/>
<path d="M828.95 83V104.6M818.6 93.85H839.4" stroke="#667985" stroke-width="2.1" fill="none"/>
<path d="M828.95 80.2 l3.9 4.4 h-7.8z M828.95 107.4 l3.9 -4.4 h-7.8z M815.8 93.85 l4.4 -3.9 v7.8z M842.2 93.85 l-4.4 -3.9 v7.8z" fill="#667985"/>
<path d="M848.2 105.9 V112.1 H842 Z" fill="#c9cdcf"/>
<rect x="2266" y="24" width="18.2" height="18" fill="#b9bdbf"/><rect x="2268" y="34.2" width="14" height="3.7" rx="0.5" fill="#172128"/>
<path d="M2293.6 27.3 L2307 40.7 M2307 27.3 L2293.6 40.7" stroke="#9ea2a5" stroke-width="3" fill="none"/>
</svg>
</body></html>
